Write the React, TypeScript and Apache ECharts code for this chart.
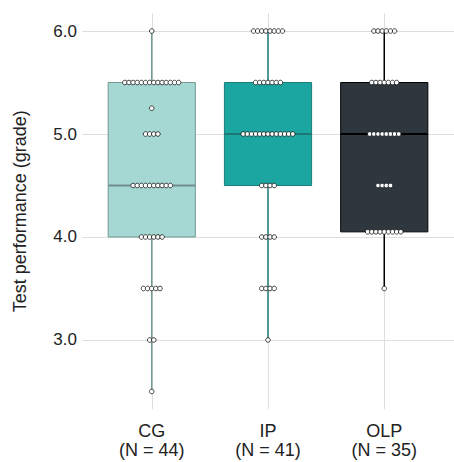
import React, { useEffect, useRef } from "react";
import * as echarts from "echarts";

const categories = ["CG", "IP", "OLP"];
const groupN = [44, 41, 35];

// grade levels and how many participants obtained each (per group)
const cgValues = [6.0, 5.5, 5.25, 5.0, 4.5, 4.0, 3.5, 3.0, 2.5];
const cgCounts = [1, 14, 1, 4, 10, 6, 5, 2, 1];
const ipValues = [6.0, 5.5, 5.0, 4.5, 4.0, 3.5, 3.0];
const ipCounts = [8, 7, 13, 4, 4, 4, 1];
const olpValues = [6.0, 5.5, 5.0, 4.5, 4.05, 3.5];
const olpCounts = [6, 7, 8, 4, 9, 1];

const yTicks = [3, 4, 5, 6];
const xTicks = [1, 2, 3];

const fills = ["#a6d8d3", "#1ba6a1", "#2e363e"];
const strokes = ["#739a97", "#1b7d79", "#000000"];
const medianColors = ["#728e8b", "#1d7672", "#000000"];

function expand(values: number[], counts: number[]) {
  const out: number[] = [];
  values.forEach((v, i) => {
    for (let k = 0; k < counts[i]; k++) out.push(v);
  });
  return out.sort((a, b) => a - b);
}

function quantile(sorted: number[], p: number) {
  const pos = (sorted.length - 1) * p;
  const lo = Math.floor(pos);
  const hi = Math.ceil(pos);
  return sorted[lo] + (sorted[hi] - sorted[lo]) * (pos - lo);
}

function boxStats(values: number[], counts: number[]) {
  const s = expand(values, counts);
  const q1 = quantile(s, 0.25);
  const med = quantile(s, 0.5);
  const q3 = quantile(s, 0.75);
  const iqr = q3 - q1;
  const lo = s.filter((v) => v >= q1 - 1.5 * iqr)[0];
  const hiArr = s.filter((v) => v <= q3 + 1.5 * iqr);
  const hi = hiArr[hiArr.length - 1];
  return [lo, q1, med, q3, hi];
}

const SPACING = 0.0356;

function dots(x: number, values: number[], counts: number[]) {
  const pts: number[][] = [];
  values.forEach((v, i) => {
    const k = counts[i];
    for (let j = 0; j < k; j++) {
      pts.push([x + (j - (k - 1) / 2) * SPACING, v]);
    }
  });
  return pts;
}

export default function App() {
  const ref = useRef<HTMLDivElement>(null);
  useEffect(() => {
    if (!ref.current) return;
    const chart = echarts.init(ref.current, null, { renderer: "svg" });
    const groups = [
      [cgValues, cgCounts],
      [ipValues, ipCounts],
      [olpValues, olpCounts],
    ];
    const boxData = groups.map((g, i) => [i + 1, ...boxStats(g[0], g[1])]);
    const dotData = groups.flatMap((g, i) => dots(i + 1, g[0], g[1]));
    const font = "Liberation Sans, Arial, sans-serif";
    const textColor = "#222222";

    chart.setOption({
      animation: false,
      grid: { left: 82, right: -5, top: 13, bottom: 52.5, containLabel: false },
      xAxis: {
        type: "value",
        min: 0.4,
        max: 3.6,
        axisLine: { show: false },
        axisTick: { show: false },
        splitLine: { show: false },
        axisLabel: {
          customValues: xTicks,
          margin: 12,
          color: textColor,
          fontSize: 18,
          fontFamily: font,
          lineHeight: 19,
          formatter: (v: number) =>
            `${categories[Math.round(v) - 1]}\n(N = ${groupN[Math.round(v) - 1]})`,
        },
      },
      yAxis: {
        type: "value",
        min: 2.325,
        max: 6.175,
        name: "Test performance (grade)",
        nameLocation: "middle",
        nameGap: 53,
        nameTextStyle: { fontSize: 18, color: textColor, fontFamily: font },
        axisLine: { show: false },
        axisTick: { show: false },
        splitLine: { show: false },
        axisLabel: {
          customValues: yTicks,
          margin: 5,
          color: textColor,
          fontSize: 17,
          fontFamily: font,
          formatter: (v: number) => v.toFixed(1),
        },
      },
      series: [
        {
          type: "custom",
          z: 2,
          data: boxData,
          renderItem: (params: any, api: any) => {
            const idx = params.dataIndex;
            const x = api.value(0);
            const lo = api.value(1);
            const q1 = api.value(2);
            const med = api.value(3);
            const q3 = api.value(4);
            const hi = api.value(5);
            const hw = 0.375;
            const tl = api.coord([x - hw, q3]);
            const br = api.coord([x + hw, q1]);
            const c = api.coord([x, med]);
            const pHi = api.coord([x, hi]);
            const pLo = api.coord([x, lo]);
            const stroke = strokes[idx];
            return {
              type: "group",
              children: [
                {
                  type: "line",
                  shape: { x1: c[0], y1: pHi[1], x2: c[0], y2: tl[1] },
                  style: { stroke, lineWidth: 1.5 },
                },
                {
                  type: "line",
                  shape: { x1: c[0], y1: br[1], x2: c[0], y2: pLo[1] },
                  style: { stroke, lineWidth: 1.5 },
                },
                {
                  type: "rect",
                  shape: { x: tl[0], y: tl[1], width: br[0] - tl[0], height: br[1] - tl[1] },
                  style: { fill: fills[idx], stroke, lineWidth: 1 },
                },
                {
                  type: "line",
                  shape: { x1: tl[0], y1: c[1], x2: br[0], y2: c[1] },
                  style: { stroke: medianColors[idx], lineWidth: 2.2 },
                },
              ],
            };
          },
        },
        {
          type: "scatter",
          z: 3,
          data: dotData,
          symbol: "circle",
          symbolSize: 4.6,
          itemStyle: { color: "#ffffff", borderColor: "#111111", borderWidth: 0.8, opacity: 1 },
          markLine: {
            z: 0,
            silent: true,
            symbol: ["none", "none"],
            label: { show: false },
            lineStyle: { color: "#dedede", width: 1, type: "solid" },
            data: [
              ...yTicks.map((v) => ({ yAxis: v })),
              ...xTicks.map((v) => ({ xAxis: v })),
            ],
          },
        },
      ],
    });
    return () => chart.dispose();
  }, []);
  return (
    <div
      ref={ref}
      style={{ position: "absolute", left: 0, top: 0, width: 454, height: 462 }}
    />
  );
}
